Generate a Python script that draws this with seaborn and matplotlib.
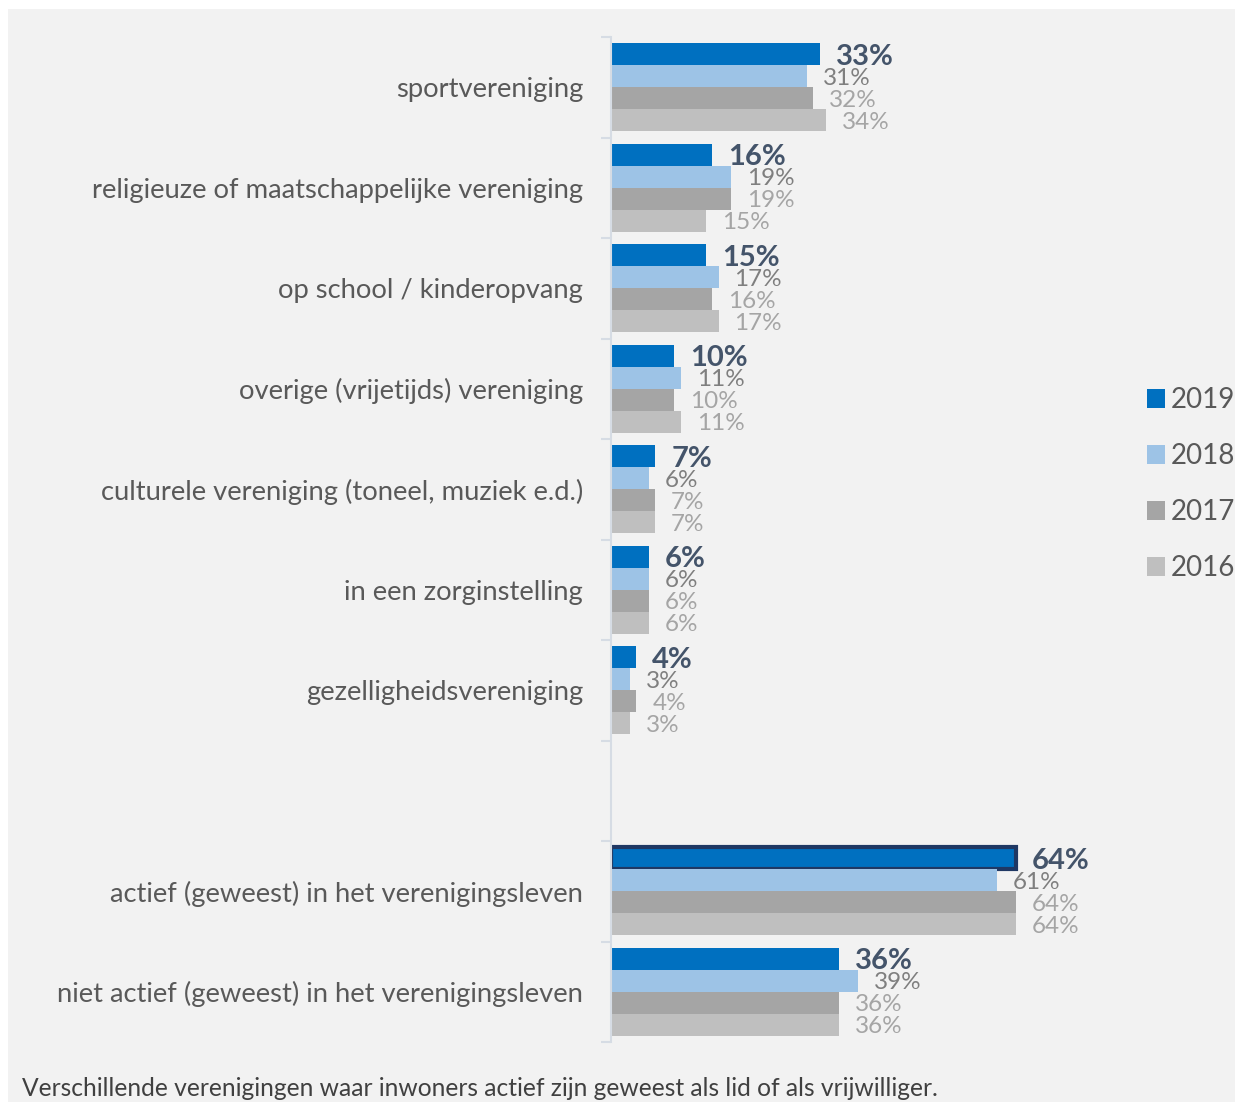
import numpy as np
import pandas as pd
import seaborn as sns
import matplotlib.pyplot as plt
from matplotlib.patches import Rectangle
from matplotlib.ticker import FixedLocator

categories = [
    "sportvereniging",
    "religieuze of maatschappelijke vereniging",
    "op school / kinderopvang",
    "overige (vrijetijds) vereniging",
    "culturele vereniging (toneel, muziek e.d.)",
    "in een zorginstelling",
    "gezelligheidsvereniging",
    "actief (geweest) in het verenigingsleven",
    "niet actief (geweest) in het verenigingsleven",
]
years = ["2019", "2018", "2017", "2016"]
pct_2019 = [33, 16, 15, 10, 7, 6, 4, 64, 36]
pct_2018 = [31, 19, 17, 11, 6, 6, 3, 61, 39]
pct_2017 = [32, 19, 16, 10, 7, 6, 4, 64, 36]
pct_2016 = [34, 15, 17, 11, 7, 6, 3, 64, 36]
caption = "Verschillende verenigingen waar inwoners actief zijn geweest als lid of als vrijwilliger."

# order on the axis, with one empty slot between the two blocks
order = categories[:7] + [" "] + categories[7:]

colors = ["#0070c0", "#9dc3e6", "#a5a5a5", "#bfbfbf"]
label_colors = ["#44546a", "#7f7f7f", "#a5a5a5", "#a5a5a5"]

rows = []
for year, vals in zip(years, [pct_2019, pct_2018, pct_2017, pct_2016]):
    for cat, v in zip(categories, vals):
        rows.append({"categorie": cat, "jaar": year, "pct": v})
df = pd.DataFrame(rows)

sns.set_style("white")
plt.rcParams["font.family"] = ["Lato", "DejaVu Sans"]

W, H = 1235, 1102
fig = plt.figure(figsize=(W / 100, H / 100), dpi=100, facecolor="white")
fig.patches.append(Rectangle((8 / W, 0), 1, 1 - 9 / H, transform=fig.transFigure,
                             facecolor="#f2f2f2", edgecolor="none", zorder=-1))

ax = fig.add_axes([611 / W, 1 - 1042 / H, (1117 - 611) / W, (1042 - 37) / H])
ax.set_facecolor("none")

sns.barplot(data=df, y="categorie", x="pct", hue="jaar", order=order, hue_order=years,
            palette=colors, width=0.88, orient="h", linewidth=0, saturation=1,
            errorbar=None, ax=ax)

ax.set_xlim(0, 80)
ax.set_ylim(len(order) - 0.5, -0.5)

for i, cont in enumerate(ax.containers):
    texts = ax.bar_label(cont, fmt="%g%%", padding=11.5, color=label_colors[i],
                         fontsize=21 if i == 0 else 17.5,
                         fontweight="bold" if i == 0 else "normal")
    for t in texts:
        t.set_va("center_baseline")

# dark outline around the 2019 bar of "actief"
for bar in ax.containers[0]:
    if bar.get_width() == 64:
        bar.set_edgecolor("#1f3864")
        bar.set_linewidth(3)

handles, labels = ax.get_legend_handles_labels()
if ax.get_legend() is not None:
    ax.get_legend().remove()
fig.legend(handles, labels, loc="center left", bbox_to_anchor=(1147 / W, 1 - 484 / H),
           frameon=False, fontsize=20, labelcolor="#595959", handlelength=0.65,
           handleheight=0.65, handletextpad=0.22, labelspacing=1.08, borderpad=0,
           borderaxespad=0)

for s in ["top", "right", "bottom"]:
    ax.spines[s].set_visible(False)
ax.spines["left"].set_color("#d6dce4")
ax.spines["left"].set_linewidth(1.5)
ax.set_xticks([])
ax.set_xlabel("")
ax.set_ylabel("")
ax.tick_params(axis="y", which="major", left=False, length=0, pad=20,
               labelsize=19.7, labelcolor="#595959")
ax.yaxis.set_minor_locator(FixedLocator(np.arange(-0.5, len(order), 1)))
ax.tick_params(axis="y", which="minor", left=True, length=7, width=1.5, color="#d6dce4")

fig.text(22 / W, 1 - 1088 / H, caption, fontsize=17.7, color="#404040", va="center", ha="left")

fig.savefig("out.png", dpi=100, facecolor=fig.get_facecolor())
